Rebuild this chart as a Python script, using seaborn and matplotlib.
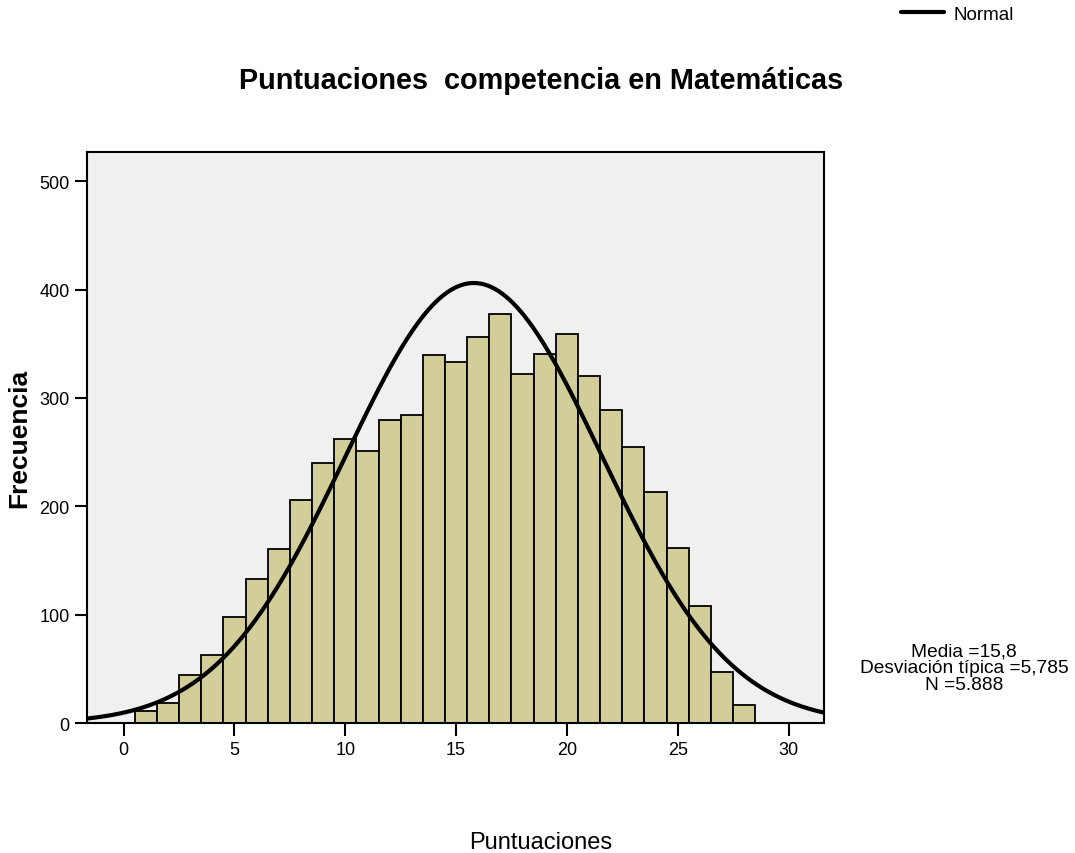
import numpy as np
import pandas as pd
import seaborn as sns
import matplotlib.pyplot as plt

# puntuación (centro de cada barra) y frecuencia
puntos = [1, 2, 3, 4, 5, 6, 7, 8, 9, 10, 11, 12, 13, 14,
          15, 16, 17, 18, 19, 20, 21, 22, 23, 24, 25, 26, 27, 28]
frecuencias = [11, 19, 44, 63, 98, 133, 161, 206, 240, 262, 251, 280, 284, 340,
               333, 356, 377, 322, 341, 359, 320, 289, 255, 213, 162, 108, 47, 17]
media = 15.8
desviacion = 5.785
n_total = 5888
x_ticks = [0, 5, 10, 15, 20, 25, 30]
y_ticks = [0, 100, 200, 300, 400, 500]

sns.set_style("ticks")
plt.rcParams['font.family'] = ['Liberation Sans', 'DejaVu Sans']
for k in ['text.color', 'axes.labelcolor', 'xtick.color', 'ytick.color']:
    plt.rcParams[k] = 'black'

fig = plt.figure(figsize=(10.75, 8.54), dpi=100)
ax = fig.add_axes([0.081, 0.152, 0.6855, 0.669])
ax.set_facecolor('#F0F0F0')

df = pd.DataFrame({'punt': puntos, 'frec': frecuencias})
sns.histplot(data=df, x='punt', weights='frec', binwidth=1,
             binrange=(min(puntos) - 0.5, max(puntos) + 0.5), color='#D3CE99',
             edgecolor='black', linewidth=1.3, alpha=1, ax=ax)

# curva normal con media, desviación y N
xs = np.linspace(-1.65, 31.6, 400)
ys = n_total * np.exp(-0.5 * ((xs - media) / desviacion) ** 2) / (desviacion * np.sqrt(2 * np.pi))
sns.lineplot(x=xs, y=ys, color='black', linewidth=3.0, label='Normal', ax=ax)

handles, labels = ax.get_legend_handles_labels()
ax.get_legend().remove()
fig.legend(handles, labels, loc='center left', bbox_to_anchor=(0.838, 0.982),
           frameon=False, fontsize=13.5, handlelength=2.3, handletextpad=0.5,
           borderaxespad=0, borderpad=0)

ax.set_xlim(-1.65, 31.6)
ax.set_ylim(0, 527)
ax.set_xticks(x_ticks)
ax.set_yticks(y_ticks)
ax.tick_params(axis='both', labelsize=13, length=9, width=1.5, color='black')
for s in ax.spines.values():
    s.set_linewidth(1.5)
    s.set_color('black')
    s.set_visible(True)

ax.set_xlabel('')
ax.set_ylabel('Frecuencia', fontsize=19, fontweight='bold', labelpad=6)
fig.text(0.503, 0.013, 'Puntuaciones', ha='center', va='center', fontsize=17)
fig.text(0.503, 0.905, 'Puntuaciones  competencia en Matemáticas',
         ha='center', va='center', fontsize=20.8, fontweight='bold')

texto = 'Media =%s\nDesviación típica =%s\nN =%s' % (
    str(media).replace('.', ','), str(desviacion).replace('.', ','),
    format(n_total, ',').replace(',', '.'))
fig.text(0.897, 0.217, texto, ha='center', va='center', fontsize=13.8,
         linespacing=0.98)

fig.savefig('out.png', dpi=100)
